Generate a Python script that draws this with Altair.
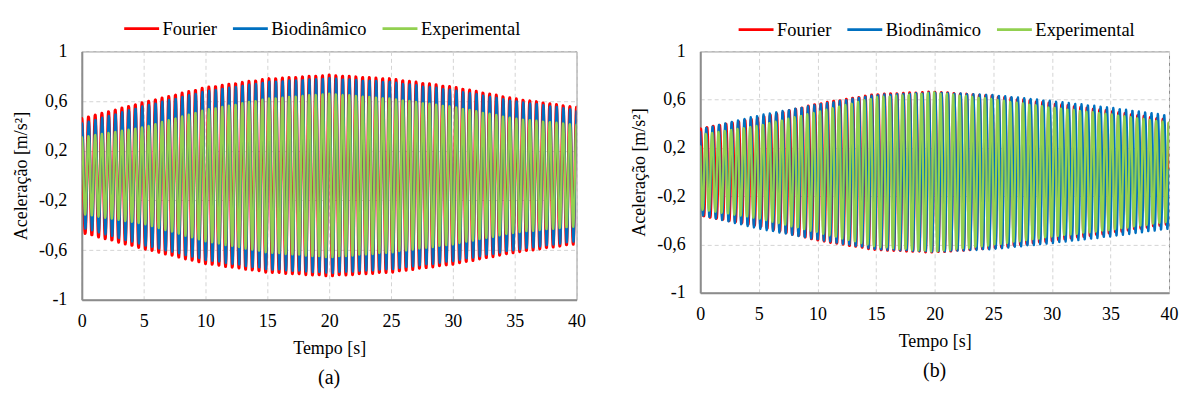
import numpy as np
import pandas as pd
import altair as alt

FONT = "Liberation Serif"
SERIES = ["Fourier", "Biodinâmico", "Experimental"]
COLORS = ["#FF0000", "#0070C0", "#92D050"]
WIDTHS = [3.0, 2.3, 2.3]

# envelope key times (s)
T_KEYS = [0, 5, 10, 15, 20, 25, 30, 35, 40]

# panel (a): peak amplitude read at T_KEYS
A_FOURIER = [0.46, 0.59, 0.71, 0.78, 0.81, 0.78, 0.715, 0.62, 0.55]
A_BIODIN = [0.42, 0.56, 0.68, 0.755, 0.785, 0.755, 0.69, 0.60, 0.53]
A_EXPER = [0.31, 0.39, 0.53, 0.62, 0.66, 0.62, 0.555, 0.46, 0.41]

# panel (b): peak amplitude read at T_KEYS
B_FOURIER = [0.36, 0.45, 0.565, 0.645, 0.665, 0.63, 0.57, 0.505, 0.43]
B_BIODIN = [0.355, 0.47, 0.56, 0.64, 0.66, 0.64, 0.59, 0.535, 0.47]
B_EXPER = [0.31, 0.385, 0.50, 0.62, 0.66, 0.605, 0.535, 0.48, 0.41]

# cycles counted over 0-40 s, and time of first peak (s)
CYCLES_A = [74.0, 74.0, 74.0]
LAG_A = [0.0, 0.02, 0.0]
CYCLES_B = [74.0, 73.7, 73.9]
LAG_B = [0.03, -0.03, -0.07]

X_TICKS = [0, 5, 10, 15, 20, 25, 30, 35, 40]
Y_TICKS = [-1, -0.6, -0.2, 0.2, 0.6, 1]


def build_frame(amps, cycles, lags):
    t = np.linspace(0, 40, 1801)
    frames = []
    for name, amp, cyc, lag in zip(SERIES, amps, cycles, lags):
        env = np.interp(t, T_KEYS, amp)
        a = env * np.cos(2 * np.pi * cyc / 40.0 * (t - lag))
        frames.append(pd.DataFrame({"t": t, "a": a, "serie": name}))
    return pd.concat(frames, ignore_index=True)


def panel(df, width, height, label, lx, ly):
    legend = alt.Legend(
        title=None, orient="none", legendX=lx, legendY=ly, direction="horizontal",
        symbolType="stroke", symbolSize=1225, symbolStrokeWidth=2.8,
        labelFont=FONT, labelFontSize=18.5, labelColor="black", labelOffset=2,
        columnPadding=9, padding=0,
    )
    x = alt.X("t:Q", scale=alt.Scale(domain=[0, 40], nice=False),
              axis=alt.Axis(values=X_TICKS, format="d", title="Tempo [s]",
                            labelFlush=False, labelPadding=13, titlePadding=9))
    y = alt.Y("a:Q", scale=alt.Scale(domain=[-1, 1], nice=False),
              axis=alt.Axis(values=Y_TICKS, title="Aceleração [m/s²]",
                            labelExpr="(datum.value < 0 ? '-' : '') + replace(format(abs(datum.value), '.1~f'), '.', ',')",
                            labelFlush=False, labelPadding=15, titlePadding=8))
    color = alt.Color("serie:N", scale=alt.Scale(domain=SERIES, range=COLORS), legend=legend)
    base = alt.Chart(df).encode(x=x, y=y, color=color)
    layers = [
        base.transform_filter(alt.datum.serie == s).mark_line(
            strokeWidth=w, strokeJoin="round", strokeCap="round", clip=True)
        for s, w in zip(SERIES, WIDTHS)
    ]
    return alt.layer(*layers).properties(
        width=width, height=height,
        title=alt.TitleParams(label, orient="bottom", anchor="middle", font=FONT,
                              fontSize=20, fontWeight="normal", color="black", offset=10),
    )


pa = panel(build_frame([A_FOURIER, A_BIODIN, A_EXPER], CYCLES_A, LAG_A), 496, 249, "(a)", 41, -42)
pb = panel(build_frame([B_FOURIER, B_BIODIN, B_EXPER], CYCLES_B, LAG_B), 470, 242, "(b)", 37, -41)

chart = alt.hconcat(pa, pb, spacing=44).resolve_scale(
    color="independent"
).resolve_legend(
    color="independent"
).properties(
    padding={"left": 4, "top": 0, "right": 0, "bottom": 0}
).configure_view(
    stroke="#8c8c8c", strokeWidth=1
).configure_axis(
    labelFont=FONT, labelFontSize=18, labelColor="black",
    titleFont=FONT, titleFontSize=18, titleFontWeight="normal", titleColor="black",
    grid=True, gridDash=[4, 3], gridColor="#d4d4d4", gridWidth=1,
    ticks=False, domainColor="#8c8c8c", domainWidth=2,
)

chart.save("out.html", embed_options={"renderer": "svg", "actions": False})
